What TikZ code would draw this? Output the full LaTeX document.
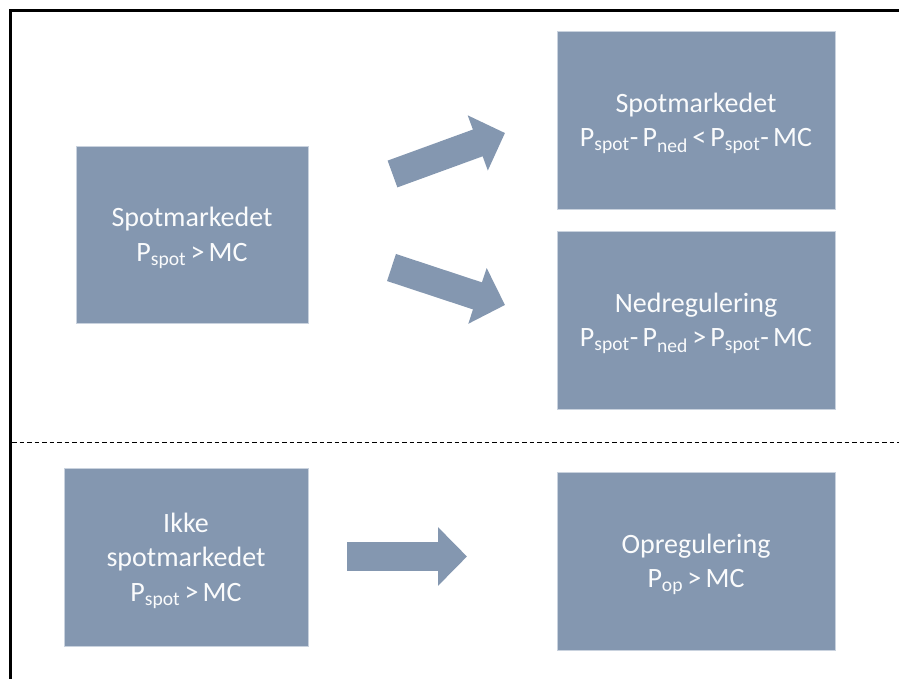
\documentclass[tikz,border=0pt]{standalone}
\usepackage{fontspec}
\setmainfont{Carlito}
\usetikzlibrary{arrows.meta}
\definecolor{boxfill}{HTML}{8497B0}
\definecolor{boxedge}{HTML}{C9D2DE}
\newcommand\boxfont{\fontsize{28pt}{34.5pt}\selectfont\spaceskip=4.3pt plus 1pt\relax}
\tikzset{
  box/.style={draw=boxedge, line width=0.7pt, fill=boxfill, text=white!96!boxfill,
    inner sep=0pt, align=center, minimum height=178pt, text depth=0pt,
    font=\boxfont},
  fatarrow/.style={boxfill, line width=28.5pt,
    -{Triangle[length=29pt,width=57pt]}}
}
\begin{document}
\begin{tikzpicture}[x=1pt,y=-1pt]
                \useasboundingbox (0,0) rectangle (899,679);
                \draw[line width=2.6pt] (10.5,679) -- (10.5,10.5) -- (899,10.5);
                \draw[line width=1pt,dash pattern=on 4.5pt off 3pt] (12,442) -- (899,442);
                \node[box,minimum width=232pt,minimum height=177pt] (spot) at (192,234.5)
                    {Spotmarkedet\\P\textsubscript{spot} > MC};
                \node[box,minimum width=278pt] (spotb) at (696,120)
                    {Spotmarkedet\\P\textsubscript{spot}- P\textsubscript{ned} < P\textsubscript{spot}- MC};
                \node[box,minimum width=278pt] (ned) at (696,320)
                    {Nedregulering\\P\textsubscript{spot}- P\textsubscript{ned} > P\textsubscript{spot}- MC};
                \node[box,minimum width=244pt] (ikke) at (186,557)
                    {Ikke\\spotmarkedet\\P\textsubscript{spot} > MC};
                \node[box,minimum width=278pt] (op) at (696,561)
                    {Opregulering\\P\textsubscript{op} > MC};
                % block arrows
                \coordinate (upfrom) at (392.5,174);
                \coordinate (upto) at (505,133);
                \coordinate (downfrom) at (391.5,267.5);
                \coordinate (downto) at (505,305);
                \coordinate (opfrom) at (347,556.5);
                \coordinate (opto) at (467,556.5);
                \draw[fatarrow] (upfrom) -- (upto);
                \draw[fatarrow] (downfrom) -- (downto);
                \draw[fatarrow] (opfrom) -- (opto);
\end{tikzpicture}
\end{document}
